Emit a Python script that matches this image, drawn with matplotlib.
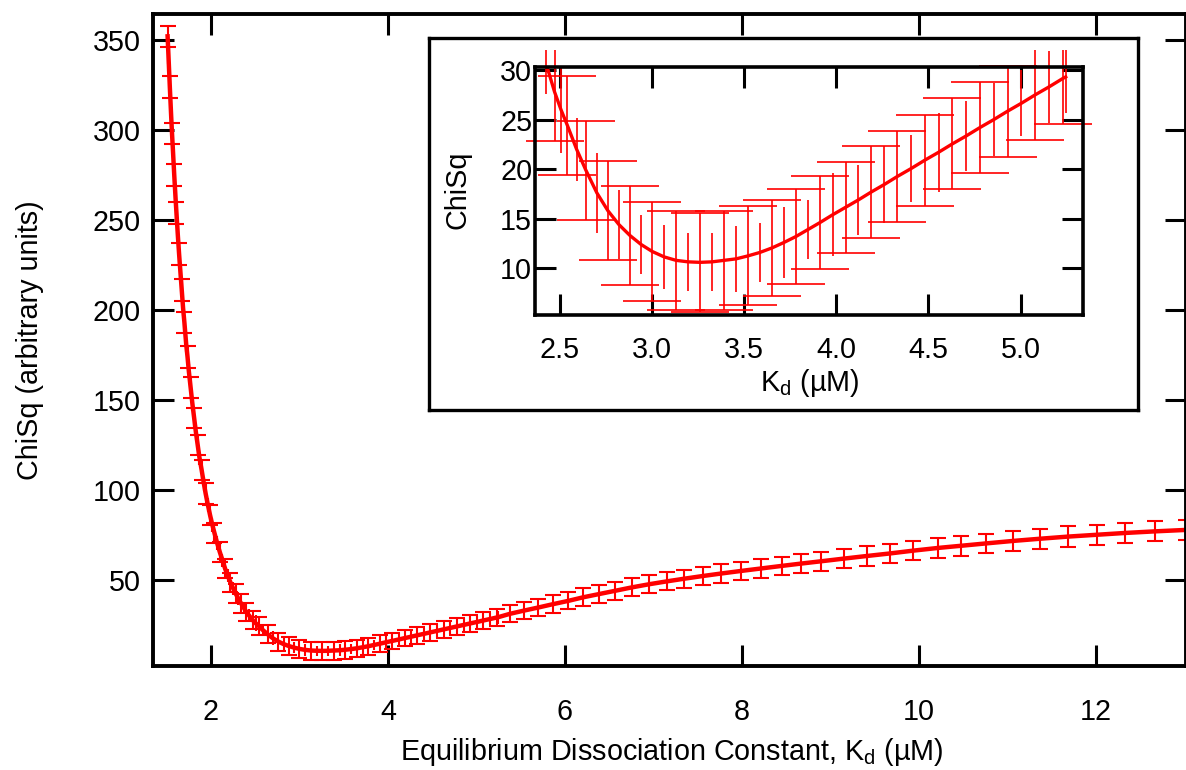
import numpy as np
import matplotlib
matplotlib.use('Agg')
import matplotlib.pyplot as plt
from matplotlib.patches import Rectangle

plt.rcParams['font.family'] = ['Liberation Sans', 'DejaVu Sans']
plt.rcParams['mathtext.fontset'] = 'custom'
plt.rcParams['mathtext.rm'] = 'Liberation Sans'
plt.rcParams['mathtext.default'] = 'regular'

# Kd scan, points drawn with capped error bars
kd_a = [1.51, 1.535, 1.56, 1.585, 1.61, 1.64, 1.67, 1.70, 1.735, 1.77,
        1.81, 1.85, 1.895, 1.94, 1.99, 2.04, 2.10, 2.16, 2.22, 2.28,
        2.34, 2.40, 2.47, 2.54, 2.64, 2.76, 2.88, 3.00, 3.13, 3.26,
        3.39, 3.52, 3.65, 3.78, 3.91, 4.05, 4.19, 4.33, 4.48, 4.63,
        4.78, 4.93, 5.08, 5.23, 5.38, 5.54, 5.70, 5.87, 6.04, 6.21,
        6.39, 6.57, 6.76, 6.95, 7.15, 7.35, 7.56, 7.77, 7.99, 8.22,
        8.45, 8.67, 8.90, 9.16, 9.41, 9.67, 9.94, 10.22, 10.48, 10.76,
        11.07, 11.37, 11.69, 12.01, 12.33, 12.67, 13.02]
chisq_a = [352, 324, 298, 275, 254, 231, 211, 193, 174, 157,
           140, 125, 111, 98, 86, 76, 65.5, 56.3, 48.7, 42.4,
           37.0, 32.2, 27.8, 24.4, 19.9, 15.8, 13.3, 11.7, 10.8, 10.6,
           10.8, 11.25, 12.05, 13.2, 14.6, 16.15, 17.7, 19.25, 20.9, 22.55,
           24.2, 25.85, 27.5, 29.15, 31.2, 33.0, 34.7, 36.6, 38.4, 40.4,
           42.2, 44.0, 45.9, 47.6, 49.2, 50.7, 52.2, 53.6, 55.0, 56.4,
           57.8, 59.1, 60.4, 61.9, 63.3, 64.7, 66.3, 67.8, 69.0, 70.3,
           71.7, 72.9, 74.1, 75.1, 76.1, 77.0, 77.8]
err_a = [6.0, 6.0, 6.0, 6.0, 6.0, 6.0, 6.0, 6.0, 6.0, 6.0,
         5.8, 5.8, 5.6, 5.6, 5.5, 5.5, 5.4, 5.4, 5.3, 5.3,
         5.2, 5.2, 5.0, 5.0, 5.0, 5.0, 5.0, 5.0, 5.0, 5.0,
         5.0, 5.0, 4.8, 4.8, 4.7, 4.6, 4.6, 4.6, 4.6, 4.6,
         4.6, 4.6, 4.6, 4.6, 4.7, 4.7, 4.8, 4.8, 4.8, 4.9,
         4.9, 5.0, 5.0, 5.0, 5.0, 5.1, 5.1, 5.1, 5.2, 5.2,
         5.2, 5.3, 5.3, 5.3, 5.4, 5.4, 5.4, 5.4, 5.5, 5.5,
         5.5, 5.5, 5.6, 5.6, 5.6, 5.6, 5.6]

# points in between, drawn without caps
kd_b = [1.52, 1.55, 1.57, 1.60, 1.625, 1.655, 1.685, 1.72, 1.75, 1.79,
        1.83, 1.87, 1.92, 1.965, 2.015, 2.07, 2.13, 2.19, 2.25, 2.31,
        2.37, 2.425, 2.505, 2.59, 2.70, 2.82, 2.94, 3.065, 3.195, 3.325,
        3.455, 3.585, 3.715, 3.845, 3.98, 4.12, 4.26, 4.405, 4.555, 4.705,
        4.855, 5.005, 5.155, 5.245]
chisq_b = [341, 308, 289, 262, 242, 221, 201, 181, 166, 148,
           132, 118, 103.5, 91.8, 80.7, 70.5, 61.0, 52.3, 45.4, 39.6,
           34.6, 30.6, 26.0, 22.0, 17.6, 14.4, 12.4, 11.15, 10.65, 10.65,
           10.95, 11.6, 12.6, 13.9, 15.4, 16.9, 18.45, 20.05, 21.7, 23.35,
           25.0, 26.65, 28.3, 29.3]
err_b = [4.5, 4.5, 4.5, 4.4, 4.4, 4.3, 4.3, 4.2, 4.2, 4.1,
         4.0, 4.0, 3.9, 3.8, 3.8, 3.7, 3.6, 3.6, 3.5, 3.5,
         3.4, 3.0, 4.4, 3.2, 4.0, 3.5, 3.0, 3.2, 2.9, 2.9,
         3.3, 3.0, 3.6, 3.0, 4.2, 3.5, 3.9, 3.4, 4.0, 3.5,
         3.7, 3.3, 3.6, 3.6]

# range shown in the zoomed panel
kd_lo, kd_hi = 2.42, 5.25

main_xticks = [2, 4, 6, 8, 10, 12]
main_yticks = [50, 100, 150, 200, 250, 300, 350]
ins_xticks = [2.5, 3.0, 3.5, 4.0, 4.5, 5.0]
ins_yticks = [10, 15, 20, 25, 30]

kd_a = np.array(kd_a); chisq_a = np.array(chisq_a); err_a = np.array(err_a)
kd_b = np.array(kd_b); chisq_b = np.array(chisq_b); err_b = np.array(err_b)

# curve through all points
kd_all = np.concatenate([kd_a, kd_b])
order = np.argsort(kd_all)
kd_all = kd_all[order]
chisq_all = np.concatenate([chisq_a, chisq_b])[order]

red = '#ff0000'
fs = 20.7


def style_axes(ax, lw, ticklen, xpad, ypad):
    for s in ax.spines.values():
        s.set_linewidth(lw)
    ax.tick_params(direction='in', length=ticklen, width=2.2,
                   top=True, right=True, labelsize=fs)
    ax.tick_params(axis='x', pad=xpad)
    ax.tick_params(axis='y', pad=ypad)


fig = plt.figure(figsize=(11.86, 7.70), dpi=100)

# Main plot
ax = fig.add_axes([153/1186, 104/770, 1033/1186, 652/770])
ax.errorbar(kd_a, chisq_a, yerr=err_a, fmt='none', ecolor=red,
            elinewidth=1.5, capsize=6, capthick=1.5)
ax.errorbar(kd_b, chisq_b, yerr=err_b, fmt='none', ecolor=red,
            elinewidth=1.5, capsize=0)
ax.plot(kd_all, chisq_all, color=red, lw=3.2)
ax.set_xlim(1.345, 13.02)
ax.set_ylim(2.2, 364.4)
ax.set_xticks(main_xticks)
ax.set_yticks(main_yticks)
style_axes(ax, 2.8, 15, 23, 9)
ax.set_xlabel(r'Equilibrium Dissociation Constant, K$_{d}$ (µM)', fontsize=fs)
ax.set_ylabel('ChiSq (arbitrary units)', fontsize=fs)
ax.xaxis.set_label_coords(0.502, -0.132)
ax.xaxis.label.set_va('center')
ax.yaxis.set_label_coords(-0.119, 0.5)
ax.yaxis.label.set_va('center')

# White frame behind the zoomed panel
box = fig.add_axes([429/1186, 360/770, 709/1186, 372/770])
box.set_xticks([])
box.set_yticks([])
for s in box.spines.values():
    s.set_linewidth(2.4)
box.set_facecolor('white')

# Zoomed panel around the minimum
ins = fig.add_axes([535/1186, 455/770, 548/1186, 248/770])
ma = (kd_a >= kd_lo) & (kd_a <= kd_hi)
mb = (kd_b >= kd_lo) & (kd_b <= kd_hi)
mc = (kd_all >= kd_lo) & (kd_all <= kd_hi)
eb1 = ins.errorbar(kd_a[ma], chisq_a[ma], yerr=err_a[ma], fmt='none',
                   ecolor=red, elinewidth=1.2, capsize=21, capthick=1.2)
eb2 = ins.errorbar(kd_b[mb], chisq_b[mb], yerr=err_b[mb], fmt='none',
                   ecolor=red, elinewidth=1.2, capsize=0)
ins.plot(kd_all[mc], chisq_all[mc], color=red, lw=2.4)
ins.set_xlim(2.364, 5.339)
ins.set_ylim(5.29, 30.3)
ins.set_xticks(ins_xticks)
ins.set_xticklabels(['%.1f' % t for t in ins_xticks])
ins.set_yticks(ins_yticks)
style_axes(ins, 2.6, 15, 15, 2)
ins.set_xlabel(r'K$_{d}$ (µM)', fontsize=fs)
ins.set_ylabel('ChiSq', fontsize=fs)
ins.xaxis.set_label_coords(0.502, -0.274)
ins.xaxis.label.set_va('center')
ins.yaxis.set_label_coords(-0.142, 0.504)
ins.yaxis.label.set_va('center')

# error bars may run a little past the panel edges
for eb in (eb1, eb2):
    for art in list(eb.lines[1]) + list(eb.lines[2]):
        art.set_clip_path(Rectangle((-0.04, -0.05), 1.08, 1.12,
                                    transform=ins.transAxes))

fig.savefig('out.png', dpi=100)
